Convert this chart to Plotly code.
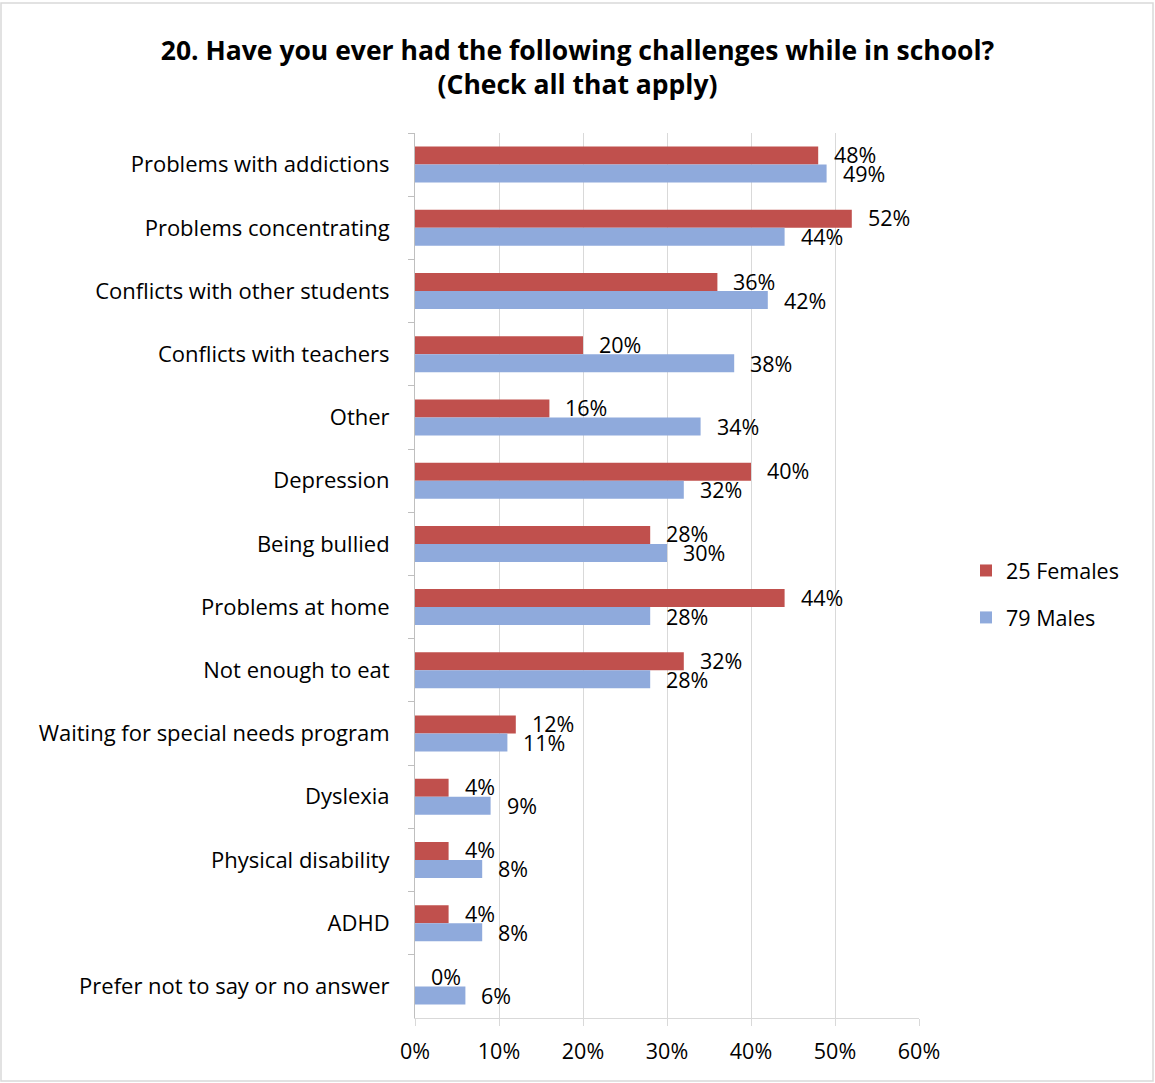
import plotly.graph_objects as go

categories = [
    "Problems with addictions",
    "Problems concentrating",
    "Conflicts with other students",
    "Conflicts with teachers",
    "Other",
    "Depression",
    "Being bullied",
    "Problems at home",
    "Not enough to eat",
    "Waiting for special needs program",
    "Dyslexia",
    "Physical disability",
    "ADHD",
    "Prefer not to say or no answer",
]
females = [48, 52, 36, 20, 16, 40, 28, 44, 32, 12, 4, 4, 4, 0]
males = [49, 44, 42, 38, 34, 32, 30, 28, 28, 11, 9, 8, 8, 6]
x_ticks = [0, 10, 20, 30, 40, 50, 60]

FONT = "Open Sans"
TEXT = "#000000"
W, H = 1155, 1083
L, R, T, B = 415, 236, 133, 65
pw, ph = W - L - R, H - T - B
BARGAP = 0.43
bar_px = ph / len(categories) * (1 - BARGAP) / 2


def px_to_paper_x(px):
    return (px - L) / pw


def px_to_paper_y(py):
    return (H - B - py) / ph


fig = go.Figure()
fig.add_trace(go.Bar(
    y=categories, x=females, name="25 Females", orientation="h",
    marker=dict(color="#C0504D", line=dict(width=0)), legendgroup="f",
))
fig.add_trace(go.Bar(
    y=categories, x=males, name="79 Males", orientation="h",
    marker=dict(color="#8FAADC", line=dict(width=0)), legendgroup="m",
))

# value labels placed just past the end of each bar
annotations = []
for series, shift in ((females, bar_px / 2 + 1), (males, -bar_px / 2)):
    for cat, v in zip(categories, series):
        annotations.append(dict(
            x=v, y=cat, xref="x", yref="y", text=f"{v}%", showarrow=False,
            xanchor="left", yanchor="middle", xshift=14, yshift=shift,
            font=dict(family=FONT, size=21.5, color=TEXT),
        ))

fig.update_layout(
    width=W, height=H,
    margin=dict(l=L, r=R, t=T, b=B),
    paper_bgcolor="white", plot_bgcolor="white",
    barmode="group", bargap=BARGAP, bargroupgap=0,
    font=dict(family=FONT, size=21.5, color=TEXT),
    title=dict(
        text="<b>20. Have you ever had the following challenges while in school?<br>(Check all that apply)</b>",
        x=0.5, xref="container", xanchor="center",
        y=1 - 60 / H, yref="container", yanchor="middle",
        font=dict(family=FONT, size=26.5, color="#000000"),
    ),
    legend=dict(
        x=px_to_paper_x(966), y=px_to_paper_y(594),
        xanchor="left", yanchor="middle",
        traceorder="grouped", tracegroupgap=16,
        font=dict(family=FONT, size=21.5, color=TEXT),
        bgcolor="rgba(0,0,0,0)",
    ),
    xaxis=dict(
        range=[0, 60], tickvals=x_ticks, ticktext=[f"{v}%" for v in x_ticks],
        showgrid=True, gridcolor="#D9D9D9", gridwidth=1,
        showline=True, linecolor="#D9D9D9", linewidth=1,
        ticks="outside", ticklen=7, tickcolor="#D9D9D9",
        ticklabelstandoff=7,
        zeroline=False, tickfont=dict(family=FONT, size=21.5, color=TEXT),
    ),
    yaxis=dict(
        categoryorder="array", categoryarray=categories, autorange="reversed",
        showline=True, linecolor="#BFBFBF", linewidth=1,
        ticks="outside", ticklen=6, tickcolor="#BFBFBF", tickson="boundaries",
        ticklabelstandoff=20,
        tickfont=dict(family=FONT, size=22, color=TEXT),
    ),
    annotations=annotations,
    shapes=[dict(
        type="rect", xref="paper", yref="paper",
        x0=px_to_paper_x(1), x1=px_to_paper_x(1153),
        y0=px_to_paper_y(1081), y1=px_to_paper_y(3),
        line=dict(color="#D9D9D9", width=1.5), fillcolor="rgba(0,0,0,0)",
        layer="below",
    )],
)

fig.write_html("out.html")
